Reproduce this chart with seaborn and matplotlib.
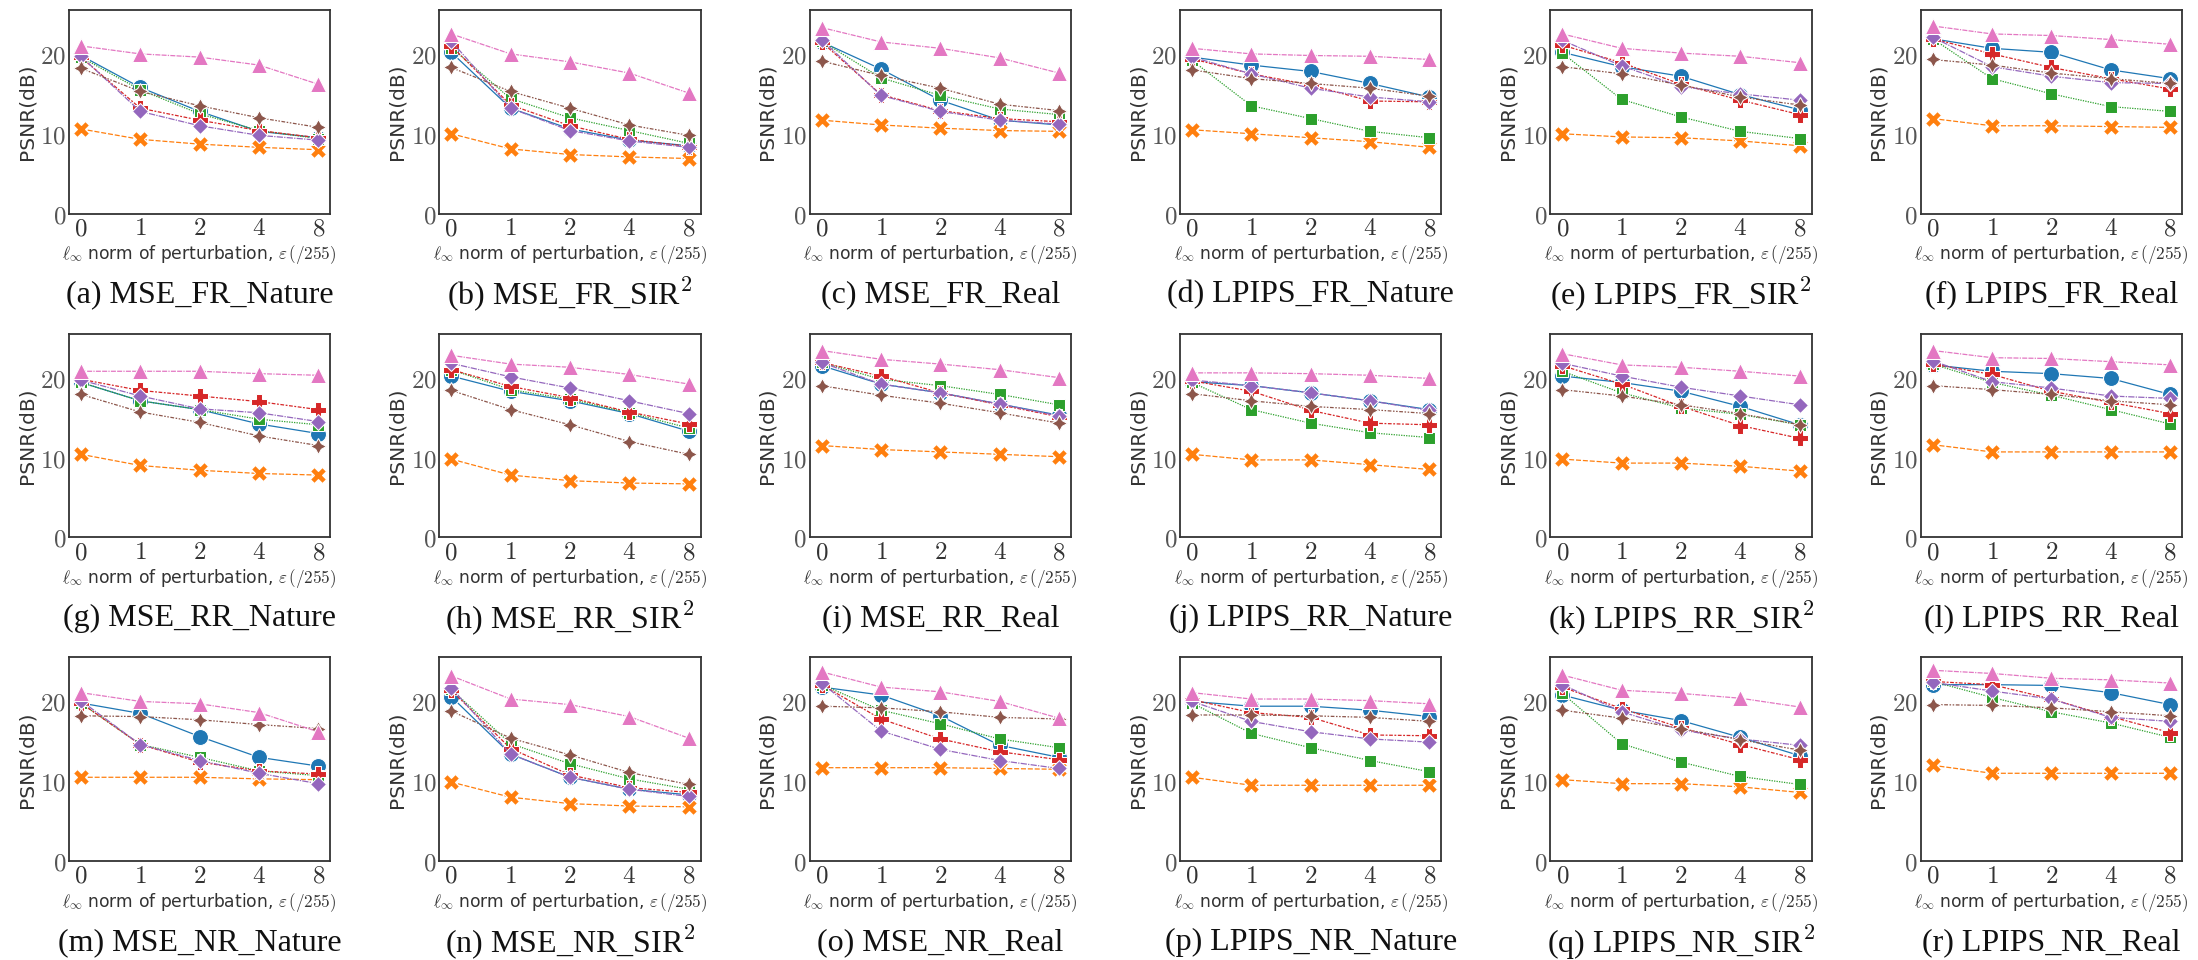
import pandas as pd
import matplotlib.pyplot as plt
import seaborn as sns

# perturbation budgets (categorical x positions) and method names
eps_labels = ['0', '1', '2', '4', '8']
methods = ['M1', 'M2', 'M3', 'M4', 'M5', 'M6', 'M7']

# PSNR values per panel, one row per method, in the order of `methods`
mse_fr_nature = [[19.8, 15.8, 12.8, 10.3, 9.5], [10.6, 9.3, 8.7, 8.3, 8.0], [19.6, 15.5, 12.5, 10.4, 9.4],
                 [19.6, 13.2, 11.7, 10.4, 9.5], [19.7, 12.8, 11.0, 9.8, 9.2], [18.2, 15.3, 13.5, 12.0, 10.8],
                 [21.0, 20.0, 19.6, 18.6, 16.2]]
mse_fr_sir2 = [[20.2, 13.2, 10.6, 9.2, 8.5], [10.0, 8.1, 7.4, 7.1, 6.9], [20.8, 14.4, 12.0, 10.4, 8.8],
               [21.0, 13.6, 11.0, 9.3, 8.4], [21.6, 13.2, 10.4, 9.1, 8.3], [18.3, 15.3, 13.2, 11.1, 9.8],
               [22.5, 20.0, 19.0, 17.6, 15.1]]
mse_fr_real = [[21.5, 18.1, 14.2, 11.7, 11.1], [11.7, 11.1, 10.7, 10.4, 10.3], [21.6, 17.0, 14.8, 13.1, 12.4],
               [21.5, 14.9, 12.9, 11.9, 11.5], [21.8, 14.8, 12.8, 11.7, 11.2], [19.1, 17.3, 15.7, 13.7, 12.9],
               [23.3, 21.5, 20.7, 19.5, 17.6]]
lpips_fr_nature = [[19.6, 18.6, 17.8, 16.3, 14.6], [10.5, 10.0, 9.5, 9.0, 8.3], [19.2, 13.5, 11.9, 10.3, 9.5],
                   [19.4, 17.5, 16.1, 14.1, 14.0], [19.6, 17.5, 15.7, 14.6, 14.0], [18.0, 16.9, 16.3, 15.7, 14.7],
                   [20.7, 20.0, 19.8, 19.7, 19.3]]
lpips_fr_sir2 = [[20.2, 18.4, 17.2, 14.9, 13.0], [10.0, 9.6, 9.5, 9.1, 8.5], [20.1, 14.3, 12.1, 10.3, 9.4],
                 [21.1, 18.9, 16.2, 14.2, 12.4], [21.7, 18.5, 15.9, 15.0, 14.2], [18.4, 17.5, 16.1, 14.6, 13.6],
                 [22.5, 20.7, 20.1, 19.7, 18.9]]
lpips_fr_real = [[21.9, 20.7, 20.2, 18.0, 16.9], [11.9, 11.0, 11.0, 10.9, 10.8], [21.9, 16.9, 15.0, 13.4, 12.8],
                 [21.9, 20.0, 18.3, 16.9, 15.6], [22.1, 18.4, 17.2, 16.4, 16.3], [19.3, 18.6, 17.6, 16.9, 16.3],
                 [23.5, 22.5, 22.3, 21.8, 21.2]]
mse_rr_nature = [[19.4, 17.1, 16.0, 14.2, 13.0], [10.4, 9.0, 8.4, 8.0, 7.8], [19.4, 17.1, 16.0, 14.8, 14.1],
                 [19.8, 18.4, 17.7, 17.0, 16.0], [19.7, 17.7, 16.1, 15.6, 14.5], [17.9, 15.7, 14.4, 12.7, 11.5],
                 [20.8, 20.8, 20.8, 20.5, 20.3]]
mse_rr_sir2 = [[20.2, 18.3, 17.1, 15.5, 13.3], [9.8, 7.8, 7.1, 6.8, 6.7], [21.0, 18.5, 17.3, 15.6, 13.7],
               [21.0, 18.9, 17.5, 15.7, 14.2], [21.8, 20.1, 18.7, 17.1, 15.5], [18.4, 16.0, 14.1, 12.0, 10.4],
               [22.8, 21.7, 21.3, 20.4, 19.2]]
mse_rr_real = [[21.5, 19.2, 18.1, 16.7, 15.3], [11.5, 11.0, 10.7, 10.4, 10.1], [21.9, 19.8, 19.0, 17.9, 16.6],
               [21.9, 20.2, 18.1, 16.6, 15.1], [21.9, 19.2, 18.1, 16.7, 15.2], [19.0, 17.8, 16.8, 15.6, 14.3],
               [23.4, 22.3, 21.7, 21.0, 20.0]]
lpips_rr_nature = [[19.5, 19.0, 18.1, 17.1, 16.0], [10.4, 9.7, 9.7, 9.1, 8.5], [19.4, 16.0, 14.3, 13.1, 12.5],
                   [19.6, 18.3, 15.9, 14.3, 14.1], [19.7, 19.0, 18.1, 17.1, 15.9], [18.0, 17.1, 16.4, 16.0, 15.5],
                   [20.6, 20.6, 20.5, 20.3, 19.9]]
lpips_rr_sir2 = [[20.2, 19.4, 18.3, 16.4, 14.1], [9.8, 9.3, 9.3, 8.9, 8.3], [20.8, 18.1, 16.2, 15.4, 14.1],
                 [21.5, 19.2, 16.4, 14.0, 12.4], [21.8, 20.2, 18.8, 17.7, 16.6], [18.5, 17.7, 16.6, 15.5, 14.1],
                 [23.0, 21.6, 21.3, 20.8, 20.2]]
lpips_rr_real = [[21.6, 20.8, 20.5, 19.9, 17.9], [11.6, 10.7, 10.7, 10.7, 10.7], [21.7, 19.4, 17.8, 16.0, 14.2],
                 [21.7, 20.4, 18.3, 16.9, 15.5], [22.1, 19.5, 18.7, 17.7, 17.4], [19.0, 18.5, 17.9, 17.1, 16.6],
                 [23.4, 22.5, 22.4, 22.0, 21.6]]
mse_nr_nature = [[19.8, 18.5, 15.6, 13.0, 11.9], [10.5, 10.5, 10.5, 10.3, 10.2], [19.8, 14.6, 13.0, 11.3, 10.7],
                 [19.8, 14.6, 12.4, 11.3, 10.9], [20.1, 14.6, 12.6, 11.0, 9.7], [18.2, 18.1, 17.7, 17.1, 16.6],
                 [21.1, 20.0, 19.7, 18.6, 16.2]]
mse_nr_sir2 = [[20.6, 13.4, 10.5, 9.0, 8.3], [9.9, 8.0, 7.2, 6.9, 6.8], [21.5, 14.7, 12.2, 10.3, 9.0],
               [21.4, 14.1, 10.8, 9.2, 8.6], [21.7, 13.4, 10.5, 9.0, 8.1], [18.8, 15.4, 13.3, 11.1, 9.6],
               [23.2, 20.3, 19.6, 18.1, 15.4]]
mse_nr_real = [[21.8, 20.8, 18.2, 14.5, 13.0], [11.7, 11.7, 11.7, 11.6, 11.5], [22.1, 18.9, 17.2, 15.3, 14.2],
               [22.1, 17.8, 15.3, 13.7, 12.7], [22.3, 16.3, 14.0, 12.6, 11.6], [19.4, 19.2, 18.7, 18.0, 17.8],
               [23.7, 21.8, 21.2, 20.0, 17.9]]
lpips_nr_nature = [[20.0, 19.4, 19.4, 18.9, 18.1], [10.5, 9.5, 9.5, 9.5, 9.5], [19.8, 16.0, 14.2, 12.6, 11.2],
                   [20.2, 18.6, 18.0, 15.8, 15.7], [20.0, 17.5, 16.2, 15.3, 14.9], [18.3, 18.3, 18.2, 18.0, 17.5],
                   [21.1, 20.3, 20.3, 20.1, 19.7]]
lpips_nr_sir2 = [[20.8, 18.9, 17.6, 15.5, 13.2], [10.2, 9.7, 9.7, 9.3, 8.6], [21.0, 14.7, 12.4, 10.6, 9.6],
                 [21.8, 19.1, 16.7, 14.6, 12.7], [22.1, 18.7, 16.4, 15.3, 14.5], [18.9, 17.9, 16.6, 15.2, 13.9],
                 [23.3, 21.4, 21.0, 20.4, 19.3]]
lpips_nr_real = [[22.1, 22.1, 22.0, 21.1, 19.6], [12.0, 11.0, 11.0, 11.0, 11.0], [22.5, 20.5, 18.7, 17.3, 15.5],
                 [22.5, 22.1, 20.3, 18.1, 16.1], [22.4, 21.3, 20.3, 18.0, 17.5], [19.6, 19.5, 19.2, 18.7, 18.2],
                 [23.9, 23.5, 22.9, 22.7, 22.3]]

panels = [
    ('(a) MSE_FR_Nature', mse_fr_nature), ('(b) MSE_FR_SIR$^2$', mse_fr_sir2),
    ('(c) MSE_FR_Real', mse_fr_real), ('(d) LPIPS_FR_Nature', lpips_fr_nature),
    ('(e) LPIPS_FR_SIR$^2$', lpips_fr_sir2), ('(f) LPIPS_FR_Real', lpips_fr_real),
    ('(g) MSE_RR_Nature', mse_rr_nature), ('(h) MSE_RR_SIR$^2$', mse_rr_sir2),
    ('(i) MSE_RR_Real', mse_rr_real), ('(j) LPIPS_RR_Nature', lpips_rr_nature),
    ('(k) LPIPS_RR_SIR$^2$', lpips_rr_sir2), ('(l) LPIPS_RR_Real', lpips_rr_real),
    ('(m) MSE_NR_Nature', mse_nr_nature), ('(n) MSE_NR_SIR$^2$', mse_nr_sir2),
    ('(o) MSE_NR_Real', mse_nr_real), ('(p) LPIPS_NR_Nature', lpips_nr_nature),
    ('(q) LPIPS_NR_SIR$^2$', lpips_nr_sir2), ('(r) LPIPS_NR_Real', lpips_nr_real),
]

sns.set_style('white')
plt.rcParams['mathtext.fontset'] = 'cm'
plt.rcParams['font.family'] = ['DejaVu Sans']

fig, axes = plt.subplots(3, 6, figsize=(21.98, 9.6), dpi=100)
fig.subplots_adjust(left=0.0314, right=0.9927, top=0.9896, bottom=0.103, wspace=0.418, hspace=0.59)

for ax, (title, vals) in zip(axes.flat, panels):
    rows = []
    for m, ys in zip(methods, vals):
        for i, y in enumerate(ys):
            rows.append({'eps': i, 'psnr': y, 'method': m})
    df = pd.DataFrame(rows)
    sns.lineplot(data=df, x='eps', y='psnr', hue='method', style='method',
                 markers=True, dashes=True, palette='tab10', ax=ax,
                 linewidth=0.9, markersize=11.5, legend=False)
    ax.set_xlim(-0.2, 4.2)
    ax.set_ylim(0, 25.5)
    ax.set_xticks(range(5))
    ax.set_xticklabels(['$%s$' % e for e in eps_labels], fontsize=18, color='#333333')
    ax.set_yticks([0, 10, 20])
    ax.set_yticklabels(['$0$', '$10$', '$20$'], fontsize=18, color='#555555')
    ax.tick_params(axis='both', length=0, pad=2)
    ax.set_xlabel(r'$\ell_\infty$ norm of perturbation, $\varepsilon\,(/255)$', fontsize=12.3,
                  color='#333333', labelpad=2)
    ax.set_ylabel('PSNR(dB)', fontsize=14.5, color='#333333', labelpad=3)
    for s in ax.spines.values():
        s.set_color('#333333')
        s.set_linewidth(1.3)
    ax.text(0.5, -0.40, title, transform=ax.transAxes, ha='center', va='center',
            fontsize=23, family='Liberation Serif', color='#111111')

fig.savefig('out.png', dpi=100)
